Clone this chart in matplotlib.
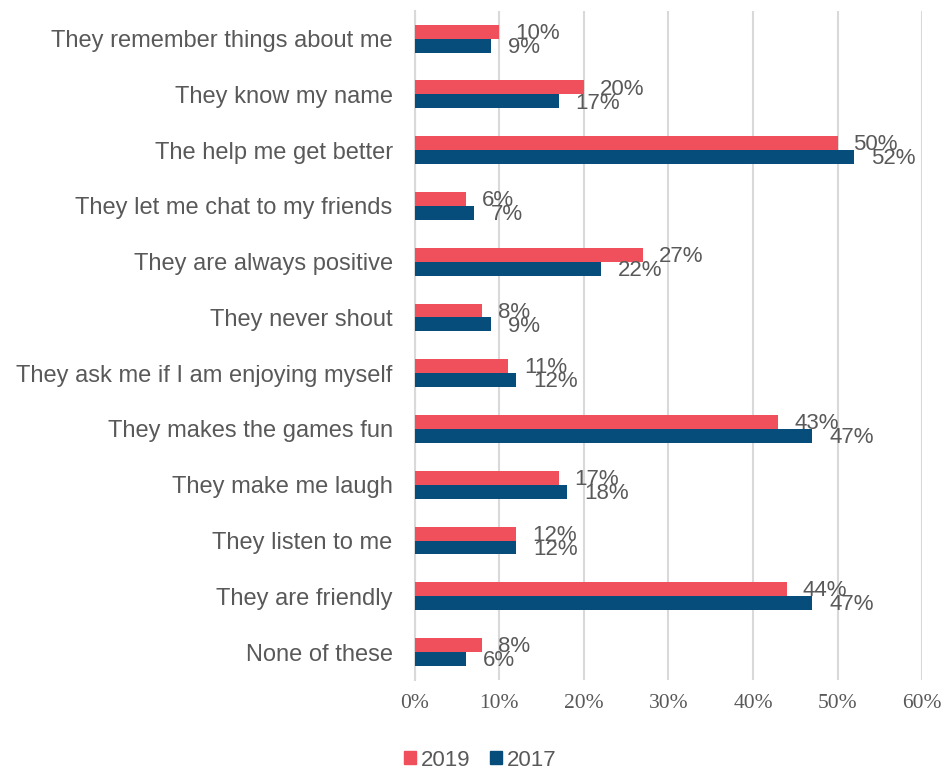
import matplotlib
matplotlib.use("Agg")
import matplotlib.pyplot as plt
import numpy as np
from matplotlib.patches import Patch

categories = [
    "They remember things about me",
    "They know my name",
    "The help me get better",
    "They let me chat to my friends",
    "They are always positive",
    "They never shout",
    "They ask me if I am enjoying myself",
    "They makes the games fun",
    "They make me laugh",
    "They listen to me",
    "They are friendly",
    "None of these",
]
values_2019 = [10, 20, 50, 6, 27, 8, 11, 43, 17, 12, 44, 8]
values_2017 = [9, 17, 52, 7, 22, 9, 12, 47, 18, 12, 47, 6]
xticks = [0, 10, 20, 30, 40, 50, 60]

c2019 = "#EF505B"
c2017 = "#064D7B"
tc = "#595959"

fig = plt.figure(figsize=(9.45, 7.7), dpi=100)
ax = fig.add_axes([0.439, 0.117, 0.5367, 0.869])

y = np.arange(len(categories))
h = 0.25
ax.barh(y - h / 2, values_2019, height=h, color=c2019, zorder=3)
ax.barh(y + h / 2, values_2017, height=h, color=c2017, zorder=3)

for yi, v in zip(y, values_2019):
    ax.annotate(f"{v}%", (v, yi - h / 2 + 0.03), xytext=(16, 0), textcoords="offset pixels",
                va="center", ha="left", fontsize=16, color=tc, family="Liberation Sans", zorder=4)
for yi, v in zip(y, values_2017):
    ax.annotate(f"{v}%", (v, yi + h / 2 + 0.03), xytext=(17, 0), textcoords="offset pixels",
                va="center", ha="left", fontsize=16, color=tc, family="Liberation Sans", zorder=4)

ax.set_ylim(len(categories) - 0.5, -0.5)
ax.set_xlim(0, 60)
ax.set_xticks(xticks)
ax.set_xticklabels([f"{t}%" for t in xticks], family="Liberation Serif", fontsize=15.5, color=tc)
ax.set_yticks(y)
ax.set_yticklabels(categories, family="Liberation Sans", fontsize=17, color=tc)
ax.tick_params(axis="both", length=0)
ax.tick_params(axis="x", pad=10)
ax.tick_params(axis="y", pad=16)
ax.grid(axis="x", color="#D9D9D9", linewidth=1.5, zorder=0)
for s in ["top", "right", "bottom"]:
    ax.spines[s].set_visible(False)
ax.spines["left"].set_color("#D9D9D9")
ax.spines["left"].set_linewidth(1.5)

handles = [Patch(color=c2019, label="2019"), Patch(color=c2017, label="2017")]
fig.legend(handles=handles, loc="center", bbox_to_anchor=(480 / 945, 1 - 760 / 770), ncol=2, frameon=False,
           prop={"family": "Liberation Sans", "size": 16}, labelcolor=tc, handlelength=0.55, handleheight=0.55,
           handletextpad=0.2, columnspacing=0.9)

fig.savefig("out.png", dpi=100)
